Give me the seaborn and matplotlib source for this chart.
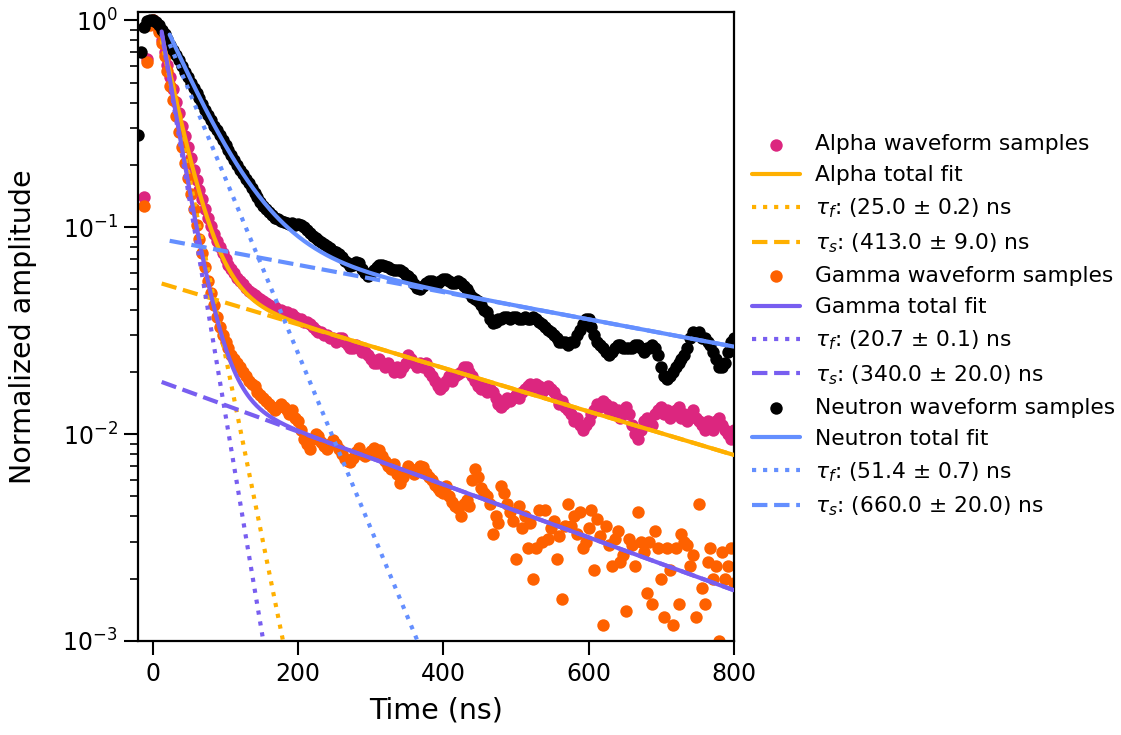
import numpy as np
import pandas as pd
import matplotlib
matplotlib.use("Agg")
import matplotlib.pyplot as plt
import seaborn as sns
from matplotlib.ticker import LogLocator, NullFormatter

# ---------------- data ----------------
dt = 4  # ns sampling
neutron_t0 = -20
neutron_samples = [
    0.28, 0.70, 0.93, 0.99, 1.00, 1.00, 0.98, 0.95, 0.90, 0.86,
    0.81, 0.76, 0.72, 0.68, 0.64, 0.60, 0.565, 0.53, 0.50, 0.47,
    0.445, 0.42, 0.395, 0.37, 0.35, 0.33, 0.31, 0.295, 0.28, 0.265,
    0.25, 0.237, 0.224, 0.212, 0.200, 0.190, 0.180, 0.171, 0.163, 0.155,
    0.147, 0.140, 0.133, 0.127, 0.122, 0.118, 0.114, 0.111, 0.109, 0.107,
    0.106, 0.105, 0.104, 0.105, 0.103, 0.104, 0.102, 0.100, 0.097, 0.094,
    0.091, 0.089, 0.087, 0.085, 0.083, 0.081, 0.079, 0.077, 0.076, 0.074,
    0.072, 0.069, 0.067, 0.065, 0.066, 0.068, 0.067, 0.063, 0.060, 0.058,
    0.060, 0.062, 0.064, 0.066, 0.066, 0.065, 0.064, 0.063, 0.062, 0.062,
    0.062, 0.061, 0.059, 0.058, 0.056, 0.053, 0.051, 0.050, 0.052, 0.054,
    0.055, 0.055, 0.054, 0.054, 0.055, 0.056, 0.056, 0.055, 0.054, 0.054,
    0.055, 0.054, 0.052, 0.050, 0.048, 0.046, 0.045, 0.044, 0.042, 0.040,
    0.039, 0.036, 0.0345, 0.035, 0.036, 0.036, 0.037, 0.037, 0.036, 0.037,
    0.037, 0.036, 0.036, 0.037, 0.036, 0.036, 0.037, 0.036, 0.035, 0.034,
    0.033, 0.032, 0.031, 0.030, 0.029, 0.028, 0.028, 0.028, 0.027, 0.028,
    0.028, 0.030, 0.032, 0.034, 0.036, 0.036, 0.033, 0.030, 0.028, 0.027,
    0.026, 0.025, 0.024, 0.025, 0.026, 0.027, 0.027, 0.026, 0.026, 0.026,
    0.026, 0.027, 0.027, 0.026, 0.025, 0.026, 0.026, 0.027, 0.026, 0.024,
    0.021, 0.019, 0.0185, 0.019, 0.020, 0.021, 0.022, 0.023, 0.024, 0.026,
    0.029, 0.031, 0.030, 0.031, 0.029, 0.029, 0.028, 0.027, 0.025, 0.023,
    0.021, 0.021, 0.022, 0.025, 0.028, 0.029,
]

alpha_t0 = -12
alpha_samples = [
    0.14, 0.65, 0.97, 1.00, 0.97, 0.90, 0.80, 0.70, 0.61, 0.53,
    0.465, 0.405, 0.355, 0.31, 0.275, 0.245, 0.215, 0.19, 0.17, 0.152,
    0.137, 0.123, 0.111, 0.101, 0.093, 0.086, 0.080, 0.075, 0.070, 0.066,
    0.063, 0.060, 0.057, 0.055, 0.053, 0.051, 0.049, 0.048, 0.047, 0.046,
    0.045, 0.044, 0.043, 0.042, 0.041, 0.041, 0.040, 0.040, 0.039, 0.039,
    0.038, 0.038, 0.037, 0.036, 0.036, 0.035, 0.035, 0.034, 0.033, 0.032,
    0.031, 0.031, 0.030, 0.030, 0.029, 0.029, 0.028, 0.029, 0.029, 0.028,
    0.027, 0.026, 0.026, 0.027, 0.026, 0.025, 0.025, 0.024, 0.023, 0.022,
    0.022, 0.023, 0.022, 0.021, 0.022, 0.021, 0.020, 0.021, 0.020, 0.021,
    0.022, 0.024, 0.023, 0.022, 0.021, 0.022, 0.021, 0.022, 0.020, 0.019,
    0.018, 0.017, 0.0165, 0.017, 0.018, 0.019, 0.018, 0.019, 0.0195, 0.020,
    0.021, 0.021, 0.020, 0.019, 0.018, 0.017, 0.0165, 0.017, 0.016, 0.0165,
    0.016, 0.015, 0.014, 0.0135, 0.014, 0.015, 0.0145, 0.015, 0.0155, 0.015,
    0.016, 0.0165, 0.017, 0.0175, 0.0165, 0.0175, 0.017, 0.016, 0.0165, 0.017,
    0.0165, 0.016, 0.015, 0.014, 0.0145, 0.0135, 0.013, 0.0125, 0.0115, 0.012,
    0.011, 0.0105, 0.011, 0.0115, 0.0125, 0.013, 0.014, 0.0135, 0.0145, 0.014,
    0.013, 0.0135, 0.0125, 0.013, 0.012, 0.013, 0.0135, 0.0125, 0.011, 0.010,
    0.0095, 0.0105, 0.0115, 0.012, 0.0115, 0.011, 0.0125, 0.013, 0.0135, 0.0125,
    0.013, 0.012, 0.0125, 0.013, 0.0135, 0.012, 0.0125, 0.0115, 0.0125, 0.013,
    0.012, 0.0115, 0.011, 0.0105, 0.0115, 0.011, 0.0105, 0.0115, 0.012, 0.011,
    0.0105, 0.010, 0.0095, 0.0105,
]

gamma_t0 = -12
gamma_samples = [
    0.126, 0.63, 0.95, 1.00, 0.96, 0.88, 0.78, 0.67, 0.57, 0.48,
    0.41, 0.345, 0.29, 0.245, 0.205, 0.172, 0.145, 0.122, 0.103, 0.088,
    0.075, 0.064, 0.055, 0.048, 0.042, 0.037, 0.033, 0.030, 0.028, 0.026,
    0.024, 0.023, 0.022, 0.021, 0.020, 0.019, 0.018, 0.0175, 0.017, 0.016,
    0.0155, 0.015, 0.0145, 0.014, 0.0135, 0.013, 0.0135, 0.014, 0.0135, 0.013,
    0.0125, 0.013, 0.012, 0.0115, 0.0105, 0.0095, 0.009, 0.0085, 0.0095, 0.0100,
    0.0098, 0.0092, 0.0088, 0.0085, 0.0090, 0.0094, 0.0090, 0.0085, 0.0080, 0.0076,
    0.0074, 0.0073, 0.0077, 0.0082, 0.0086, 0.0080, 0.0078, 0.0080, 0.0083, 0.0086,
    0.0082, 0.0084, 0.0078, 0.0074, 0.0070, 0.0068, 0.0072, 0.0064, 0.0058, 0.0062,
    0.0066, 0.0070, 0.0068, 0.0064, 0.0066, 0.0070, 0.0069, 0.0065, 0.0062, 0.0060,
    0.0057, 0.0055, 0.0053, 0.0052, 0.0056, 0.0050, 0.0047, 0.0045, 0.0044, 0.0040,
    0.0046, 0.0048, 0.0045, 0.0060, 0.0068, 0.0062, 0.0055, 0.0052, 0.0050, 0.0046,
    0.0033, 0.0040, 0.0037, 0.0056, 0.0052, 0.0046, 0.0042, 0.0038, 0.0025, 0.0045,
    0.0035, 0.0040, 0.0028, 0.0037, 0.0020, 0.0028, 0.0043, 0.0030, 0.0043, 0.0031,
    0.0035, 0.0038, 0.0025, 0.0032, 0.0016, 0.0036, 0.0046, 0.0036, 0.0040, 0.0033,
    0.0042, 0.0028, 0.0030, 0.0035, 0.0043, 0.0022, 0.0039, 0.0032, 0.0012, 0.0036,
    0.0029, 0.0023, 0.0031, 0.0034, 0.0024, 0.0026, 0.0014, 0.0031, 0.0029, 0.0023,
    0.0042, 0.0030, 0.0027, 0.0017, 0.0030, 0.0015, 0.0034, 0.0028, 0.0020, 0.0013,
    0.0028, 0.0022, 0.0012, 0.0028, 0.0015, 0.0033, 0.0030, 0.0029, 0.0023, 0.0026,
    0.0013, 0.0046, 0.0018, 0.0015, 0.0024, 0.0028, 0.0020, 0.0023, 0.0010, 0.0027,
    0.0020, 0.0023, 0.0028, 0.0019,
]

# fit parameters: (A_fast, tau_fast, A_slow, tau_slow, fit start)
alpha_fit = (1.296, 25.0, 0.055, 413.0, 12)
gamma_fit = (1.545, 20.7, 0.0185, 340.0, 12)
neutron_fit = (1.20, 51.4, 0.089, 660.0, 23)

species = ["Alpha", "Gamma", "Neutron"]
tau_labels = {
    "Alpha": (r"$\tau_f$: (25.0 ± 0.2) ns", r"$\tau_s$: (413.0 ± 9.0) ns"),
    "Gamma": (r"$\tau_f$: (20.7 ± 0.1) ns", r"$\tau_s$: (340.0 ± 20.0) ns"),
    "Neutron": (r"$\tau_f$: (51.4 ± 0.7) ns", r"$\tau_s$: (660.0 ± 20.0) ns"),
}
sample_colors = {"Alpha": "#DC267F", "Gamma": "#FE6100", "Neutron": "black"}
fit_colors = {"Alpha": "#FFB000", "Gamma": "#785EF0", "Neutron": "#648FFF"}

samples = {"Alpha": (alpha_t0, alpha_samples),
           "Gamma": (gamma_t0, gamma_samples),
           "Neutron": (neutron_t0, neutron_samples)}
fits = {"Alpha": alpha_fit, "Gamma": gamma_fit, "Neutron": neutron_fit}

# ---------------- plotting ----------------
sns.set_style("ticks")
plt.rcParams["font.family"] = ["DejaVu Sans"]
plt.rcParams["mathtext.fontset"] = "dejavusans"
for k in ["text.color", "axes.labelcolor", "xtick.color", "ytick.color",
          "axes.edgecolor"]:
    plt.rcParams[k] = "black"

fig = plt.figure(figsize=(11.21, 7.35), dpi=100)
ax = fig.add_axes([0.1235, 0.128, 0.531, 0.856])

for sp in species:
    t0, vals = samples[sp]
    t = t0 + dt * np.arange(len(vals))
    df = pd.DataFrame({"t": t, "v": vals})
    sns.scatterplot(data=df, x="t", y="v", ax=ax, color=sample_colors[sp],
                    s=80, linewidth=0, zorder=2,
                    label=f"{sp} waveform samples")
    af, tf, as_, ts, tstart = fits[sp]
    tt = np.linspace(tstart, 800, 500)
    fast = af * np.exp(-tt / tf)
    slow = as_ * np.exp(-tt / ts)
    c = fit_colors[sp]
    ax.plot(tt, fast + slow, color=c, lw=3, ls="-", zorder=3,
            label=f"{sp} total fit")
    ax.plot(tt, fast, color=c, lw=3, ls=":", zorder=3, label=tau_labels[sp][0])
    ax.plot(tt, slow, color=c, lw=3, ls="--", zorder=3, label=tau_labels[sp][1])

ax.set_yscale("log")
ax.set_xlim(-20, 800)
ax.set_ylim(1e-3, 1.1)
ax.set_xticks([0, 200, 400, 600, 800])
ax.yaxis.set_minor_locator(LogLocator(base=10, subs=np.arange(2, 10)))
ax.yaxis.set_minor_formatter(NullFormatter())

ax.set_xlabel("Time (ns)", fontsize=20.5, labelpad=8)
ax.set_ylabel("Normalized amplitude", fontsize=20.5, labelpad=18)
ax.tick_params(axis="both", which="major", labelsize=17, length=10, width=1.5,
               pad=5, direction="out", color="black", labelcolor="black")
ax.tick_params(axis="y", which="minor", length=6, width=1.2, color="black")
for s in ax.spines.values():
    s.set_linewidth(1.6)
    s.set_color("black")

ax.legend(loc="center left", bbox_to_anchor=(1.0, 0.5), frameon=False,
          fontsize=15.7, handlelength=2.2, labelspacing=0.51,
          borderaxespad=0.45, handletextpad=0.7)

fig.savefig("out.png", dpi=100)
